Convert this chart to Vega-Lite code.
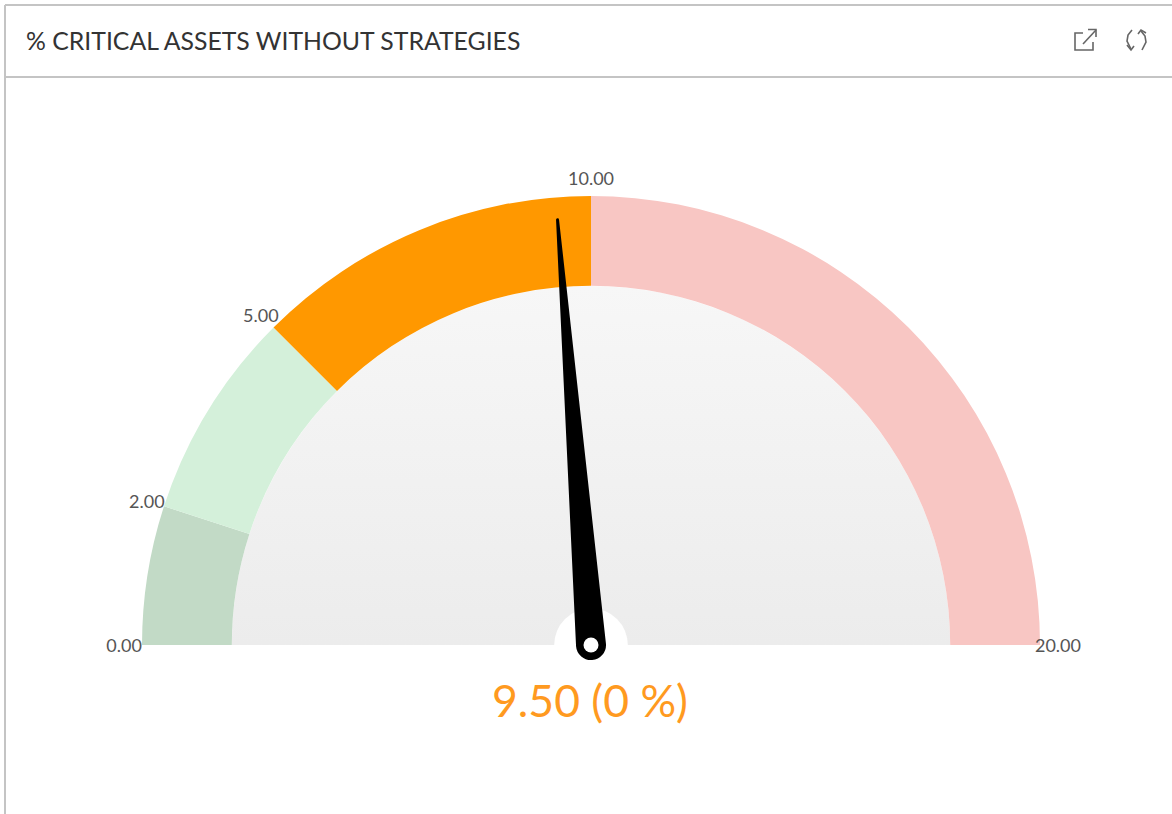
{"$schema":"https://vega.github.io/schema/vega-lite/v6.json","width":1172,"height":814,"padding":0,"autosize":{"type":"none"},"background":"#ffffff","config":{"view":{"stroke":null}},"resolve":{"scale":{"x":"independent","y":"independent"}},"datasets":{"bands":[{"from":0,"to":2,"band":"a","inner":0.8,"outer":1},{"from":2,"to":5,"band":"b","inner":0.8,"outer":1},{"from":5,"to":10,"band":"c","inner":0.8,"outer":1},{"from":10,"to":20,"band":"d","inner":0.8,"outer":1}],"ticks":[{"value":0,"label":"0.00","reach":1.04},{"value":2,"label":"2.00","reach":1.04},{"value":5,"label":"5.00","reach":1.04},{"value":10,"label":"10.00","reach":1.04},{"value":20,"label":"20.00","reach":1.04}],"needle":[{"value":9.5,"reach":0,"thickness":30},{"value":9.5,"reach":0.95,"thickness":3}],"chrome":[{"part":"left","x":5,"y":5},{"part":"left","x":5,"y":814},{"part":"top","x":5,"y":5},{"part":"top","x":1172,"y":5},{"part":"head","x":5,"y":77},{"part":"head","x":1172,"y":77}],"icons":[{"part":"box","x":1083,"y":33},{"part":"box","x":1075,"y":33},{"part":"box","x":1075,"y":50},{"part":"box","x":1093,"y":50},{"part":"box","x":1093,"y":42},{"part":"shaft","x":1083,"y":44},{"part":"shaft","x":1096,"y":30},{"part":"arrowhead","x":1088,"y":29.5},{"part":"arrowhead","x":1096,"y":29.5},{"part":"arrowhead","x":1096,"y":37},{"part":"l1","x":1132,"y":30},{"part":"l1","x":1128,"y":35},{"part":"l1","x":1127,"y":41},{"part":"l1","x":1131,"y":49},{"part":"l2","x":1127,"y":45},{"part":"l2","x":1131,"y":50},{"part":"l2","x":1134,"y":46},{"part":"r1","x":1141,"y":31},{"part":"r1","x":1145,"y":36},{"part":"r1","x":1146,"y":42},{"part":"r1","x":1142,"y":50},{"part":"r2","x":1138,"y":34},{"part":"r2","x":1141,"y":30},{"part":"r2","x":1146,"y":33}]},"layer":[{"data":{"values":[{"from":0,"to":20,"inner":0,"outer":0.8}]},"mark":{"type":"arc","fill":{"gradient":"linear","x1":0,"y1":0,"x2":0,"y2":1,"stops":[{"offset":0,"color":"#f7f7f7"},{"offset":1,"color":"#ececec"}]}},"encoding":{"x":{"datum":0,"type":"quantitative","axis":null,"scale":{"domain":[-1.3163,1.2940]}},"y":{"datum":0,"type":"quantitative","axis":null,"scale":{"domain":[-0.3764,1.4365]}},"theta":{"field":"from","type":"quantitative","stack":false,"scale":{"domain":[0,20],"range":[-1.5707963,1.5707963]}},"theta2":{"field":"to"},"radius":{"field":"outer","type":"quantitative","scale":{"type":"linear","domain":[0,1],"range":[0,449]}},"radius2":{"field":"inner"}}},{"data":{"name":"bands"},"mark":{"type":"arc"},"encoding":{"x":{"datum":0,"type":"quantitative","axis":null,"scale":{"domain":[-1.3163,1.2940]}},"y":{"datum":0,"type":"quantitative","axis":null,"scale":{"domain":[-0.3764,1.4365]}},"theta":{"field":"from","type":"quantitative","stack":false,"scale":{"domain":[0,20],"range":[-1.5707963,1.5707963]}},"theta2":{"field":"to"},"radius":{"field":"outer","type":"quantitative","scale":{"type":"linear","domain":[0,1],"range":[0,449]}},"radius2":{"field":"inner"},"color":{"field":"band","type":"nominal","legend":null,"scale":{"domain":["a","b","c","d"],"range":["#c2dac6","#d4f0da","#ff9800","#f8c6c3"]}}}},{"data":{"values":[{"from":0,"to":20,"inner":0,"outer":0.082}]},"mark":{"type":"arc","fill":"#ffffff"},"encoding":{"x":{"datum":0,"type":"quantitative","axis":null,"scale":{"domain":[-1.3163,1.2940]}},"y":{"datum":0,"type":"quantitative","axis":null,"scale":{"domain":[-0.3764,1.4365]}},"theta":{"field":"from","type":"quantitative","stack":false,"scale":{"domain":[0,20],"range":[-1.5707963,1.5707963]}},"theta2":{"field":"to"},"radius":{"field":"outer","type":"quantitative","scale":{"type":"linear","domain":[0,1],"range":[0,449]}},"radius2":{"field":"inner"}}},{"data":{"name":"needle"},"transform":[{"calculate":"datum.reach*sin((datum.value/20-0.5)*PI)","as":"nx"},{"calculate":"datum.reach*cos((datum.value/20-0.5)*PI)","as":"ny"}],"mark":{"type":"trail","color":"#000000"},"encoding":{"x":{"field":"nx","type":"quantitative","axis":null,"scale":{"domain":[-1.3163,1.2940]}},"y":{"field":"ny","type":"quantitative","axis":null,"scale":{"domain":[-0.3764,1.4365]}},"order":{"field":"reach","type":"quantitative"},"size":{"field":"thickness","type":"quantitative","legend":null,"scale":{"domain":[0,30],"range":[0,30]}}}},{"data":{"values":[{"value":9.5}]},"mark":{"type":"point","filled":true,"color":"#ffffff","opacity":1,"size":225},"encoding":{"x":{"datum":0,"type":"quantitative","axis":null,"scale":{"domain":[-1.3163,1.2940]}},"y":{"datum":0,"type":"quantitative","axis":null,"scale":{"domain":[-0.3764,1.4365]}}}},{"data":{"name":"ticks"},"mark":{"type":"text","font":"Lato","fontSize":18,"color":"#555555","align":"center","baseline":"middle","dy":2},"encoding":{"x":{"datum":0,"type":"quantitative","axis":null,"scale":{"domain":[-1.3163,1.2940]}},"y":{"datum":0,"type":"quantitative","axis":null,"scale":{"domain":[-0.3764,1.4365]}},"theta":{"field":"value","type":"quantitative","stack":false,"scale":{"domain":[0,20],"range":[-1.5707963,1.5707963]}},"radius":{"field":"reach","type":"quantitative","scale":{"type":"linear","domain":[0,1],"range":[0,449]}},"text":{"field":"label"}}},{"data":{"values":[{"label":"9.50 (0 %)"}]},"mark":{"type":"text","font":"Lato","fontSize":44.5,"color":"#ff9a1f","align":"center","baseline":"middle"},"encoding":{"x":{"datum":590,"type":"quantitative","axis":null,"scale":{"domain":[0,1172]}},"y":{"datum":704,"type":"quantitative","axis":null,"scale":{"domain":[814,0]}},"text":{"field":"label"}}},{"data":{"values":[{"label":"% CRITICAL ASSETS WITHOUT STRATEGIES"}]},"mark":{"type":"text","font":"Lato","fontSize":24.8,"color":"#333333","align":"left","baseline":"middle"},"encoding":{"x":{"datum":26,"type":"quantitative","axis":null,"scale":{"domain":[0,1172]}},"y":{"datum":43,"type":"quantitative","axis":null,"scale":{"domain":[814,0]}},"text":{"field":"label"}}},{"data":{"name":"chrome"},"mark":{"type":"line","color":"#c4c4c4","strokeWidth":2},"encoding":{"x":{"field":"x","type":"quantitative","axis":null,"scale":{"domain":[0,1172]}},"y":{"field":"y","type":"quantitative","axis":null,"scale":{"domain":[814,0]}},"detail":{"field":"part"}}},{"data":{"name":"icons"},"mark":{"type":"line","color":"#666666","strokeWidth":1.6,"interpolate":"linear"},"encoding":{"x":{"field":"x","type":"quantitative","axis":null,"scale":{"domain":[0,1172]}},"y":{"field":"y","type":"quantitative","axis":null,"scale":{"domain":[814,0]}},"detail":{"field":"part"},"order":{"field":"seq"}}}]}
